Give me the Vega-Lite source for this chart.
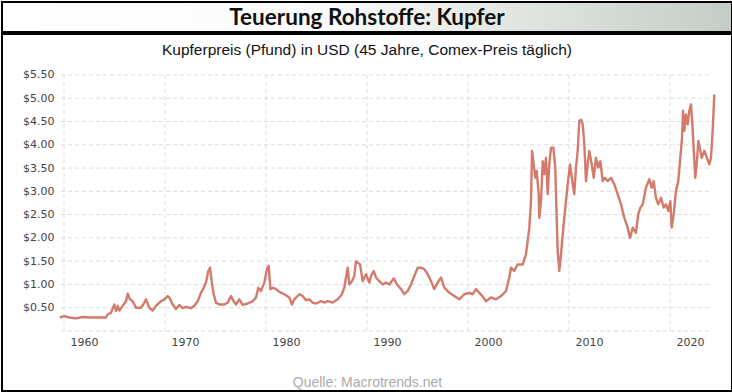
{
  "$schema": "https://vega.github.io/schema/vega-lite/v6.json",
  "padding": {"left": 1, "top": 1, "right": 1, "bottom": 1},
  "autosize": {"type": "pad"},
  "spacing": 0,
  "background": "white",
  "vconcat": [
    {
      "width": 730,
      "height": 30,
      "view": {
        "fill": {"gradient": "linear", "x1": 0, "y1": 0, "x2": 1, "y2": 0,
          "stops": [{"offset": 0, "color": "#ffffff"}, {"offset": 0.45, "color": "#fafbfa"}, {"offset": 1, "color": "#c3cdc6"}]},
        "stroke": "#000000",
        "strokeWidth": 2
      },
      "data": {"values": [{"t": "Teuerung Rohstoffe: Kupfer"}]},
      "mark": {"type": "text", "font": "Lato", "fontWeight": "bold", "fontSize": 22.5, "color": "#111111", "dy": 1},
      "encoding": {"text": {"field": "t", "type": "nominal"}}
    },
    {
      "width": 730,
      "height": 357,
      "view": {"stroke": "#000000", "strokeWidth": 2},
      "title": {
        "text": "Kupferpreis (Pfund) in USD (45 Jahre, Comex-Preis täglich)",
        "font": "Liberation Sans", "fontSize": 15.5, "fontWeight": "normal", "color": "#111111",
        "anchor": "middle", "frame": "group", "offset": -24
      },
      "resolve": {"axis": {"x": "independent", "y": "independent"}},
      "layer": [
        {
          "data": {"values": [{"g": 0}, {"g": 0.5}, {"g": 1}, {"g": 1.5}, {"g": 2}, {"g": 2.5}, {"g": 3}, {"g": 3.5}, {"g": 4}, {"g": 4.5}, {"g": 5}, {"g": 5.5}]},
          "mark": {"type": "rule", "color": "#dddddd", "strokeWidth": 1, "strokeDash": [4, 3]},
          "encoding": {
            "y": {"field": "g", "type": "quantitative", "axis": null, "scale": {"domain": [-1.289, 6.38], "nice": false, "zero": false}},
            "x": {"datum": 1959.7, "type": "quantitative", "axis": null, "scale": {"domain": [1953.861, 2026.139], "nice": false, "zero": false}},
            "x2": {"datum": 2024.06}
          }
        },
        {
          "data": {"values": [{"v": 1960}, {"v": 1970}, {"v": 1980}, {"v": 1990}, {"v": 2000}, {"v": 2010}, {"v": 2020}]},
          "mark": {"type": "rule", "color": "#dddddd", "strokeWidth": 1, "strokeDash": [4, 3]},
          "encoding": {
            "x": {"field": "v", "type": "quantitative", "axis": null, "scale": {"domain": [1953.861, 2026.139], "nice": false, "zero": false}},
            "y": {"datum": 0, "type": "quantitative", "axis": null, "scale": {"domain": [-1.289, 6.38], "nice": false, "zero": false}},
            "y2": {"datum": 5.55}
          }
        },
        {
          "data": {"values": [
            {"Jahr": 1959.60, "Preis": 0.29}, {"Jahr": 1960.03, "Preis": 0.32}, {"Jahr": 1960.52, "Preis": 0.29}, {"Jahr": 1961.19, "Preis": 0.27},
            {"Jahr": 1961.85, "Preis": 0.30}, {"Jahr": 1962.50, "Preis": 0.29}, {"Jahr": 1963.17, "Preis": 0.29}, {"Jahr": 1964.16, "Preis": 0.29},
            {"Jahr": 1964.33, "Preis": 0.36}, {"Jahr": 1964.65, "Preis": 0.39}, {"Jahr": 1964.98, "Preis": 0.57}, {"Jahr": 1965.15, "Preis": 0.43},
            {"Jahr": 1965.32, "Preis": 0.54}, {"Jahr": 1965.48, "Preis": 0.44}, {"Jahr": 1965.81, "Preis": 0.54}, {"Jahr": 1966.14, "Preis": 0.64},
            {"Jahr": 1966.31, "Preis": 0.80}, {"Jahr": 1966.53, "Preis": 0.68}, {"Jahr": 1966.80, "Preis": 0.64}, {"Jahr": 1967.13, "Preis": 0.50},
            {"Jahr": 1967.62, "Preis": 0.50}, {"Jahr": 1967.85, "Preis": 0.57}, {"Jahr": 1968.12, "Preis": 0.68}, {"Jahr": 1968.45, "Preis": 0.50},
            {"Jahr": 1968.78, "Preis": 0.44}, {"Jahr": 1969.11, "Preis": 0.54}, {"Jahr": 1969.60, "Preis": 0.64}, {"Jahr": 1969.93, "Preis": 0.68},
            {"Jahr": 1970.27, "Preis": 0.75}, {"Jahr": 1970.43, "Preis": 0.72}, {"Jahr": 1970.76, "Preis": 0.57}, {"Jahr": 1971.09, "Preis": 0.47},
            {"Jahr": 1971.42, "Preis": 0.56}, {"Jahr": 1971.75, "Preis": 0.49}, {"Jahr": 1972.08, "Preis": 0.52}, {"Jahr": 1972.57, "Preis": 0.49},
            {"Jahr": 1972.90, "Preis": 0.54}, {"Jahr": 1973.24, "Preis": 0.64}, {"Jahr": 1973.56, "Preis": 0.82}, {"Jahr": 1973.83, "Preis": 0.93},
            {"Jahr": 1974.06, "Preis": 1.04}, {"Jahr": 1974.29, "Preis": 1.29}, {"Jahr": 1974.46, "Preis": 1.36}, {"Jahr": 1974.62, "Preis": 1.07},
            {"Jahr": 1974.82, "Preis": 0.79}, {"Jahr": 1975.05, "Preis": 0.61}, {"Jahr": 1975.38, "Preis": 0.57}, {"Jahr": 1975.87, "Preis": 0.57},
            {"Jahr": 1976.21, "Preis": 0.61}, {"Jahr": 1976.53, "Preis": 0.75}, {"Jahr": 1976.80, "Preis": 0.64}, {"Jahr": 1977.03, "Preis": 0.57},
            {"Jahr": 1977.36, "Preis": 0.68}, {"Jahr": 1977.69, "Preis": 0.56}, {"Jahr": 1978.19, "Preis": 0.59}, {"Jahr": 1978.68, "Preis": 0.64},
            {"Jahr": 1979.01, "Preis": 0.72}, {"Jahr": 1979.24, "Preis": 0.93}, {"Jahr": 1979.50, "Preis": 0.86}, {"Jahr": 1979.83, "Preis": 1.04},
            {"Jahr": 1980.10, "Preis": 1.33}, {"Jahr": 1980.27, "Preis": 1.40}, {"Jahr": 1980.43, "Preis": 0.90}, {"Jahr": 1980.67, "Preis": 0.93},
            {"Jahr": 1981.00, "Preis": 0.90}, {"Jahr": 1981.32, "Preis": 0.84}, {"Jahr": 1981.81, "Preis": 0.79}, {"Jahr": 1982.31, "Preis": 0.72},
            {"Jahr": 1982.57, "Preis": 0.57}, {"Jahr": 1982.80, "Preis": 0.68}, {"Jahr": 1983.30, "Preis": 0.79}, {"Jahr": 1983.63, "Preis": 0.75},
            {"Jahr": 1983.96, "Preis": 0.66}, {"Jahr": 1984.29, "Preis": 0.68}, {"Jahr": 1984.62, "Preis": 0.61}, {"Jahr": 1984.95, "Preis": 0.59},
            {"Jahr": 1985.45, "Preis": 0.64}, {"Jahr": 1985.77, "Preis": 0.61}, {"Jahr": 1986.11, "Preis": 0.64}, {"Jahr": 1986.60, "Preis": 0.61},
            {"Jahr": 1987.10, "Preis": 0.68}, {"Jahr": 1987.52, "Preis": 0.79}, {"Jahr": 1987.75, "Preis": 0.93}, {"Jahr": 1987.92, "Preis": 1.15},
            {"Jahr": 1988.09, "Preis": 1.36}, {"Jahr": 1988.25, "Preis": 1.00}, {"Jahr": 1988.51, "Preis": 1.07}, {"Jahr": 1988.74, "Preis": 1.18},
            {"Jahr": 1988.91, "Preis": 1.50}, {"Jahr": 1989.08, "Preis": 1.47}, {"Jahr": 1989.31, "Preis": 1.43}, {"Jahr": 1989.57, "Preis": 1.07},
            {"Jahr": 1989.90, "Preis": 1.22}, {"Jahr": 1990.23, "Preis": 1.04}, {"Jahr": 1990.40, "Preis": 1.18}, {"Jahr": 1990.66, "Preis": 1.29},
            {"Jahr": 1990.89, "Preis": 1.15}, {"Jahr": 1991.22, "Preis": 1.07}, {"Jahr": 1991.55, "Preis": 1.00}, {"Jahr": 1991.88, "Preis": 1.04},
            {"Jahr": 1992.21, "Preis": 1.00}, {"Jahr": 1992.64, "Preis": 1.13}, {"Jahr": 1992.97, "Preis": 1.00}, {"Jahr": 1993.37, "Preis": 0.90},
            {"Jahr": 1993.69, "Preis": 0.79}, {"Jahr": 1994.03, "Preis": 0.86}, {"Jahr": 1994.36, "Preis": 1.00}, {"Jahr": 1994.68, "Preis": 1.18},
            {"Jahr": 1995.02, "Preis": 1.36}, {"Jahr": 1995.35, "Preis": 1.36}, {"Jahr": 1995.67, "Preis": 1.33}, {"Jahr": 1996.01, "Preis": 1.22},
            {"Jahr": 1996.34, "Preis": 1.07}, {"Jahr": 1996.66, "Preis": 0.90}, {"Jahr": 1997.00, "Preis": 1.04}, {"Jahr": 1997.33, "Preis": 1.15},
            {"Jahr": 1997.66, "Preis": 0.93}, {"Jahr": 1998.15, "Preis": 0.82}, {"Jahr": 1998.64, "Preis": 0.75}, {"Jahr": 1999.14, "Preis": 0.68},
            {"Jahr": 1999.63, "Preis": 0.79}, {"Jahr": 2000.13, "Preis": 0.82}, {"Jahr": 2000.47, "Preis": 0.79}, {"Jahr": 2000.79, "Preis": 0.90},
            {"Jahr": 2001.12, "Preis": 0.82}, {"Jahr": 2001.39, "Preis": 0.76}, {"Jahr": 2001.78, "Preis": 0.64}, {"Jahr": 2002.28, "Preis": 0.72},
            {"Jahr": 2002.77, "Preis": 0.68}, {"Jahr": 2003.27, "Preis": 0.75}, {"Jahr": 2003.76, "Preis": 0.86}, {"Jahr": 2004.09, "Preis": 1.15},
            {"Jahr": 2004.26, "Preis": 1.36}, {"Jahr": 2004.58, "Preis": 1.29}, {"Jahr": 2004.92, "Preis": 1.43}, {"Jahr": 2005.42, "Preis": 1.43},
            {"Jahr": 2005.74, "Preis": 1.65}, {"Jahr": 2005.91, "Preis": 1.93}, {"Jahr": 2006.07, "Preis": 2.22}, {"Jahr": 2006.24, "Preis": 2.79},
            {"Jahr": 2006.34, "Preis": 3.87}, {"Jahr": 2006.47, "Preis": 3.65}, {"Jahr": 2006.67, "Preis": 3.29}, {"Jahr": 2006.80, "Preis": 3.44},
            {"Jahr": 2007.00, "Preis": 2.94}, {"Jahr": 2007.06, "Preis": 2.43}, {"Jahr": 2007.23, "Preis": 2.79}, {"Jahr": 2007.40, "Preis": 3.65},
            {"Jahr": 2007.55, "Preis": 3.37}, {"Jahr": 2007.72, "Preis": 3.72}, {"Jahr": 2007.89, "Preis": 2.94}, {"Jahr": 2008.05, "Preis": 3.58},
            {"Jahr": 2008.22, "Preis": 3.94}, {"Jahr": 2008.45, "Preis": 3.94}, {"Jahr": 2008.64, "Preis": 3.51}, {"Jahr": 2008.78, "Preis": 2.43},
            {"Jahr": 2008.88, "Preis": 1.72}, {"Jahr": 2009.04, "Preis": 1.29}, {"Jahr": 2009.21, "Preis": 1.65}, {"Jahr": 2009.38, "Preis": 2.08},
            {"Jahr": 2009.53, "Preis": 2.43}, {"Jahr": 2009.70, "Preis": 2.79}, {"Jahr": 2009.87, "Preis": 3.15}, {"Jahr": 2010.10, "Preis": 3.58},
            {"Jahr": 2010.37, "Preis": 3.15}, {"Jahr": 2010.52, "Preis": 2.94}, {"Jahr": 2010.69, "Preis": 3.51}, {"Jahr": 2010.86, "Preis": 3.87},
            {"Jahr": 2011.02, "Preis": 4.51}, {"Jahr": 2011.19, "Preis": 4.54}, {"Jahr": 2011.36, "Preis": 4.44}, {"Jahr": 2011.52, "Preis": 4.01},
            {"Jahr": 2011.68, "Preis": 3.22}, {"Jahr": 2011.85, "Preis": 3.58}, {"Jahr": 2012.01, "Preis": 3.87}, {"Jahr": 2012.25, "Preis": 3.58},
            {"Jahr": 2012.45, "Preis": 3.29}, {"Jahr": 2012.67, "Preis": 3.72}, {"Jahr": 2012.90, "Preis": 3.51}, {"Jahr": 2013.10, "Preis": 3.65},
            {"Jahr": 2013.34, "Preis": 3.22}, {"Jahr": 2013.56, "Preis": 3.29}, {"Jahr": 2013.83, "Preis": 3.22}, {"Jahr": 2014.16, "Preis": 3.29},
            {"Jahr": 2014.49, "Preis": 3.15}, {"Jahr": 2014.82, "Preis": 2.94}, {"Jahr": 2015.15, "Preis": 2.72}, {"Jahr": 2015.48, "Preis": 2.43},
            {"Jahr": 2015.81, "Preis": 2.22}, {"Jahr": 2016.04, "Preis": 2.00}, {"Jahr": 2016.31, "Preis": 2.22}, {"Jahr": 2016.63, "Preis": 2.11},
            {"Jahr": 2016.86, "Preis": 2.51}, {"Jahr": 2017.06, "Preis": 2.65}, {"Jahr": 2017.30, "Preis": 2.72}, {"Jahr": 2017.62, "Preis": 3.08},
            {"Jahr": 2017.95, "Preis": 3.26}, {"Jahr": 2018.19, "Preis": 3.08}, {"Jahr": 2018.38, "Preis": 3.22}, {"Jahr": 2018.61, "Preis": 2.86},
            {"Jahr": 2018.84, "Preis": 2.72}, {"Jahr": 2019.11, "Preis": 2.86}, {"Jahr": 2019.38, "Preis": 2.65}, {"Jahr": 2019.60, "Preis": 2.72},
            {"Jahr": 2019.83, "Preis": 2.58}, {"Jahr": 2020.03, "Preis": 2.79}, {"Jahr": 2020.17, "Preis": 2.22}, {"Jahr": 2020.37, "Preis": 2.51},
            {"Jahr": 2020.59, "Preis": 3.01}, {"Jahr": 2020.82, "Preis": 3.22}, {"Jahr": 2021.02, "Preis": 3.72}, {"Jahr": 2021.19, "Preis": 4.15},
            {"Jahr": 2021.29, "Preis": 4.73}, {"Jahr": 2021.42, "Preis": 4.30}, {"Jahr": 2021.58, "Preis": 4.65}, {"Jahr": 2021.75, "Preis": 4.44},
            {"Jahr": 2021.91, "Preis": 4.73}, {"Jahr": 2022.08, "Preis": 4.87}, {"Jahr": 2022.25, "Preis": 4.30}, {"Jahr": 2022.41, "Preis": 3.65},
            {"Jahr": 2022.50, "Preis": 3.29}, {"Jahr": 2022.67, "Preis": 3.65}, {"Jahr": 2022.80, "Preis": 4.08}, {"Jahr": 2022.94, "Preis": 3.94},
            {"Jahr": 2023.14, "Preis": 3.72}, {"Jahr": 2023.40, "Preis": 3.87}, {"Jahr": 2023.66, "Preis": 3.72}, {"Jahr": 2023.89, "Preis": 3.58},
            {"Jahr": 2024.06, "Preis": 3.72}, {"Jahr": 2024.22, "Preis": 4.30}, {"Jahr": 2024.39, "Preis": 5.08}
          ]},
          "mark": {"type": "line", "color": "#d47a6c", "strokeWidth": 2.4, "strokeJoin": "round"},
          "encoding": {
            "x": {
              "field": "Jahr", "type": "quantitative",
              "scale": {"domain": [1953.861, 2026.139], "nice": false, "zero": false},
              "axis": {
                "values": [1960, 1970, 1980, 1990, 2000, 2010, 2020], "format": "d",
                "orient": "bottom", "offset": -60, "labelOffset": 20, "labelFlush": false,
                "domain": false, "ticks": false, "grid": false,
                "labelFont": "DejaVu Sans", "labelFontSize": 11, "labelColor": "#444444", "labelPadding": 5,
                "title": "Quelle: Macrotrends.net", "titleFont": "Liberation Sans", "titleFontSize": 14,
                "titleFontWeight": "normal", "titleColor": "#aaaaaa", "titlePadding": 28
              }
            },
            "y": {
              "field": "Preis", "type": "quantitative",
              "scale": {"domain": [-1.289, 6.38], "nice": false, "zero": false},
              "axis": {
                "values": [0.5, 1, 1.5, 2, 2.5, 3, 3.5, 4, 4.5, 5, 5.5], "format": "$.2f",
                "orient": "left", "offset": -54,
                "domain": false, "ticks": false, "grid": false,
                "labelFont": "DejaVu Sans", "labelFontSize": 11, "labelColor": "#444444", "labelPadding": 2,
                "title": null
              }
            }
          }
        }
      ]
    }
  ]
}
